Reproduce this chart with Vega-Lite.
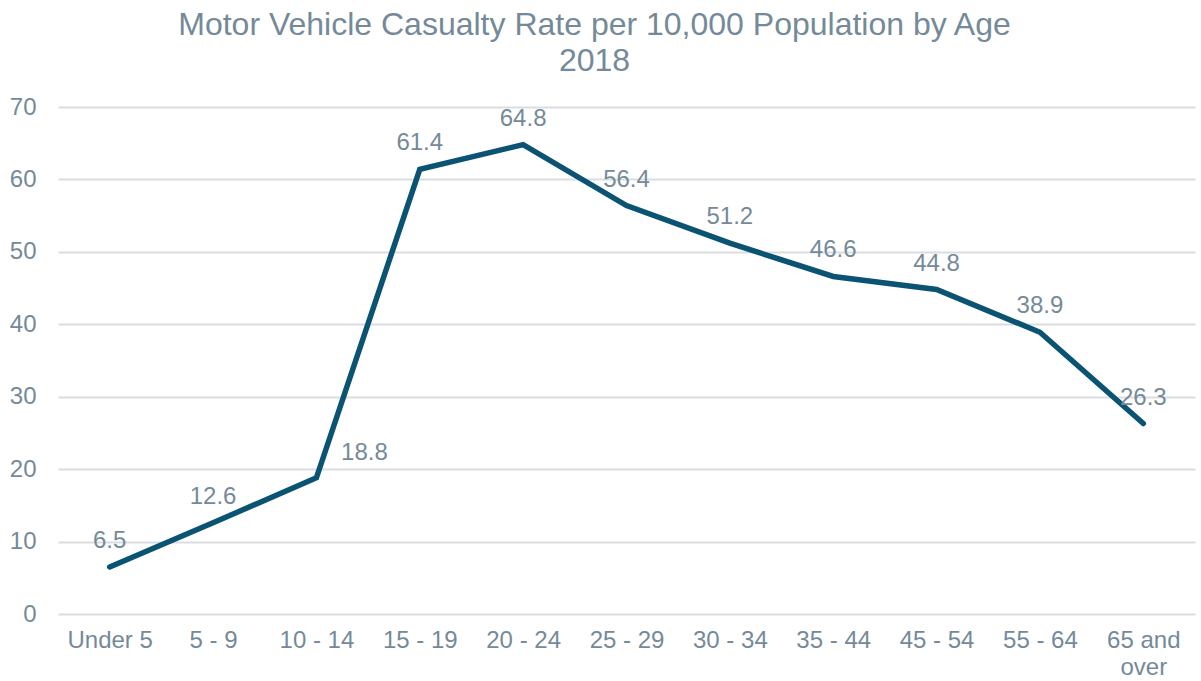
{
  "$schema": "https://vega.github.io/schema/vega-lite/v6.json",
  "autosize": "none",
  "width": 1137,
  "height": 507,
  "padding": {"left": 58, "top": 107, "right": 6, "bottom": 67},
  "background": "white",
  "config": {"view": {"stroke": null}, "font": "Liberation Sans"},
  "title": {
    "text": ["Motor Vehicle Casualty Rate per 10,000 Population by Age", "2018"],
    "fontSize": 32,
    "font": "Liberation Sans",
    "fontWeight": "normal",
    "color": "#758a99",
    "anchor": "middle",
    "dx": -32,
    "offset": 17,
    "lineHeight": 36
  },
  "data": {
    "values": [
      {"age": "Under 5", "rate": 6.5},
      {"age": "5 - 9", "rate": 12.6},
      {"age": "10 - 14", "rate": 18.8},
      {"age": "15 - 19", "rate": 61.4},
      {"age": "20 - 24", "rate": 64.8},
      {"age": "25 - 29", "rate": 56.4},
      {"age": "30 - 34", "rate": 51.2},
      {"age": "35 - 44", "rate": 46.6},
      {"age": "45 - 54", "rate": 44.8},
      {"age": "55 - 64", "rate": 38.9},
      {"age": "65 and over", "rate": 26.3}
    ]
  },
  "encoding": {
    "x": {
      "field": "age", "type": "ordinal", "sort": null,
      "scale": {"type": "point", "padding": 0.5},
      "axis": {
        "title": null, "domain": false, "ticks": false, "labelAngle": 0,
        "labelFontSize": 24, "labelColor": "#758a99", "labelPadding": 14, "labelFont": "Liberation Sans",
        "labelExpr": "datum.value == '65 and over' ? ['65 and', 'over'] : datum.value",
        "labelLineHeight": 27
      }
    },
    "y": {
      "field": "rate", "type": "quantitative",
      "scale": {"domain": [0, 70]},
      "axis": {
        "title": null, "domain": false, "ticks": false, "values": [0,10,20,30,40,50,60,70],
        "labelFontSize": 24, "labelColor": "#758a99", "labelPadding": 22, "labelFont": "Liberation Sans",
        "gridColor": "#d9dde2", "gridWidth": 2
      }
    }
  },
  "layer": [
    {"mark": {"type": "line", "color": "#0b5373", "strokeWidth": 5.5, "strokeCap": "round"}},
    {
      "transform": [{"filter": "datum.age != '10 - 14'"}],
      "mark": {"type": "text", "fontSize": 24, "font": "Liberation Sans", "color": "#758a99", "baseline": "middle", "dy": -26},
      "encoding": {"text": {"field": "rate", "type": "quantitative", "format": ".1f"}}
    },
    {
      "transform": [{"filter": "datum.age == '10 - 14'"}],
      "mark": {"type": "text", "fontSize": 24, "font": "Liberation Sans", "color": "#758a99", "baseline": "middle", "dy": -25, "dx": 48},
      "encoding": {"text": {"field": "rate", "type": "quantitative", "format": ".1f"}}
    }
  ]
}
